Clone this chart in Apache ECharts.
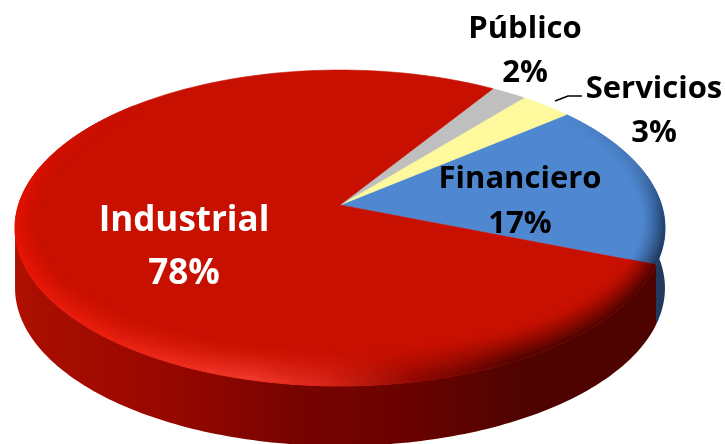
<!DOCTYPE html>
<html>
<head>
<meta charset="utf-8">
<style>html,body{margin:0;padding:0;background:#fff}#pie{width:725px;height:444px}</style>
<script src="https://cdn.jsdelivr.net/npm/echarts@6/dist/echarts.min.js"></script>
</head>
<body>
<div id="pie"></div>
<script>
// chart data, in drawing order (counter-clockwise from the red/blue edge)
var categories = ['Financiero', 'Servicios', 'Público', 'Industrial'];
var values = [17, 3, 2, 78];

// look of each slice
var flatColors = ['#4f88d0', '#fdf99c', '#bfbfbf', '#c81000'];
var labelColors = ['#000', '#000', '#000', '#fff'];
var labelSizes = [31, 31, 31, 35];
var labelHeights = [45, 44, 44, 53];
var labelPlaces = [[520, 202], [654, 111], [525, 51], [184, 248]];
// bevel colour along the rim: [angle, colour]
var bevelStops = [
    [[-40, '#4f88d0'], [-15, '#4474b4'], [5, '#21416d'], [22, '#1d3557']],
    [],
    [],
    [[20, '#500300'], [62, '#500300'], [78, '#8a0700'], [92, '#d8261a'], [104, '#f23a2c'], [130, '#ea2010'], [180, '#e41000'], [205, '#d01000'], [225, '#c81000']]
];
var sideStops = [
    [[-15, '#1f3a5c'], [22, '#1f3a5c']],
    [],
    [],
    [[20, '#4f0300'], [60, '#4f0300'], [80, '#6a0200'], [97, '#780300'], [120, '#9a0800'], [150, '#a80e00'], [172, '#b01000']]
];

// perspective of the disc
var cx = 340, cy = 205, R = 321.5, S = 154.6, K = 0.1456, DEPTH = 60;
var START = 21.5, STEP = 1, RINGS = 10;

function project(X, Y, drop) {
    var w = 1 - K * Y;
    return [cx + R * X / w, cy + S * Y / w + (drop || 0)];
}
// s = 1 is the outer rim, s = 0 the inner end of the bevel
function rim(t, s, drop) {
    var a = t * Math.PI / 180, front = Math.max(0, Math.sin(a));
    var rho = 1 - (1 - s) * (0.07 + 0.11 * front * front);
    return project(Math.cos(a) * rho, Math.sin(a) * rho, drop);
}
function hex(c) {
    return [parseInt(c.substr(1, 2), 16), parseInt(c.substr(3, 2), 16), parseInt(c.substr(5, 2), 16)];
}
function mix(a, b, f) {
    var p = hex(a), q = hex(b);
    return '#' + [0, 1, 2].map(function (i) {
        return ('0' + Math.round(p[i] + (q[i] - p[i]) * f).toString(16)).slice(-2);
    }).join('');
}
function stopColor(stops, t) {
    if (t <= stops[0][0]) return stops[0][1];
    for (var i = 1; i < stops.length; i++) {
        if (t <= stops[i][0]) {
            return mix(stops[i - 1][1], stops[i][1], (t - stops[i - 1][0]) / (stops[i][0] - stops[i - 1][0]));
        }
    }
    return stops[stops.length - 1][1];
}
function quad(points, color) {
    return {
        type: 'polygon', silent: true,
        shape: { points: points },
        style: { fill: color, stroke: color, lineWidth: 0.8 }
    };
}

// slice angles, going counter-clockwise on screen
var total = values.reduce(function (a, b) { return a + b; }, 0);
var sliceData = [], running = 0;
values.forEach(function (v, i) {
    sliceData.push([i, v, running]);
    running += v;
});
function sliceRange(api) {
    var from = START - api.value(2) / total * 360;
    var to = from - api.value(1) / total * 360;
    // the red slice wraps round: bring it to 21..303 so its stops read upward
    if (to < -180) return [to + 360, from + 360];
    return [to, from];
}

function renderSide(params, api) {
    var i = api.value(0), stops = sideStops[i];
    if (!stops.length) return { type: 'group', children: [] };
    var r = sliceRange(api);
    var a = Math.max(r[0], stops[0][0]), b = Math.min(r[1], stops[stops.length - 1][0]);
    var top = [], bottom = [], t;
    for (t = a; t < b; t += STEP) {
        top.push(rim(t, 1));
        bottom.unshift(rim(t, 1, DEPTH));
    }
    top.push(rim(b, 1));
    bottom.unshift(rim(b, 1, DEPTH));
    // colour runs across the page, so one polygon with a horizontal gradient is enough
    var x0 = rim(b, 1)[0], x1 = rim(a, 1)[0];
    var colorStops = stops.slice().reverse().map(function (s) {
        var f = (rim(s[0], 1)[0] - x0) / (x1 - x0);
        return { offset: Math.min(1, Math.max(0, f)), color: s[1] };
    });
    return {
        type: 'polygon', silent: true,
        shape: { points: top.concat(bottom) },
        style: { fill: new echarts.graphic.LinearGradient(x0, 0, x1, 0, colorStops, true) }
    };
}

function renderTop(params, api) {
    var i = api.value(0), r = sliceRange(api), flat = flatColors[i], stops = bevelStops[i];
    var pts = [[cx, cy]], t;
    for (t = r[0]; t < r[1]; t += 1) pts.push(rim(t, 1));
    pts.push(rim(r[1], 1));
    var children = [{
        type: 'polygon', silent: true, shape: { points: pts },
        style: { fill: flat, stroke: flat, lineWidth: 0.6 }
    }];
    if (stops.length) {
        var a = Math.max(r[0], stops[0][0]), b = Math.min(r[1], stops[stops.length - 1][0]);
        for (t = a; t < b; t += STEP) {
            var e = Math.min(t + STEP, b), edge = stopColor(stops, t + STEP / 2);
            for (var j = 0; j < RINGS; j++) {
                var u = Math.pow((j + 0.5) / RINGS, 1.4);
                children.push(quad([rim(t, j / RINGS), rim(e, j / RINGS), rim(e, (j + 1) / RINGS), rim(t, (j + 1) / RINGS)], mix(flat, edge, u)));
            }
        }
    }
    return { type: 'group', children: children };
}

function renderLabel(params, api) {
    var i = api.value(0);
    return {
        type: 'text', silent: true,
        style: {
            text: categories[i] + '\n' + api.value(1) + '%',
            x: labelPlaces[i][0], y: labelPlaces[i][1],
            align: 'center', verticalAlign: 'middle',
            fill: labelColors[i], lineHeight: labelHeights[i],
            font: '700 ' + labelSizes[i] + 'px "Open Sans", sans-serif'
        }
    };
}

var pieChart = echarts.init(document.getElementById('pie'));
var pieOption = {
    animation: false,
    backgroundColor: '#fff',
    series: [
        { type: 'custom', coordinateSystem: 'none', z: 1, data: sliceData, renderItem: renderSide },
        { type: 'custom', coordinateSystem: 'none', z: 2, data: sliceData, renderItem: renderTop },
        { type: 'custom', coordinateSystem: 'none', z: 3, data: sliceData, renderItem: renderLabel }
    ],
    graphic: [{
        type: 'polyline', z: 4, silent: true,
        shape: { points: [[555, 101], [568, 96], [582, 96]] },
        style: { stroke: '#000', lineWidth: 1.5, fill: null }
    }]
};
pieChart.setOption(pieOption);
</script>
</body>
</html>
